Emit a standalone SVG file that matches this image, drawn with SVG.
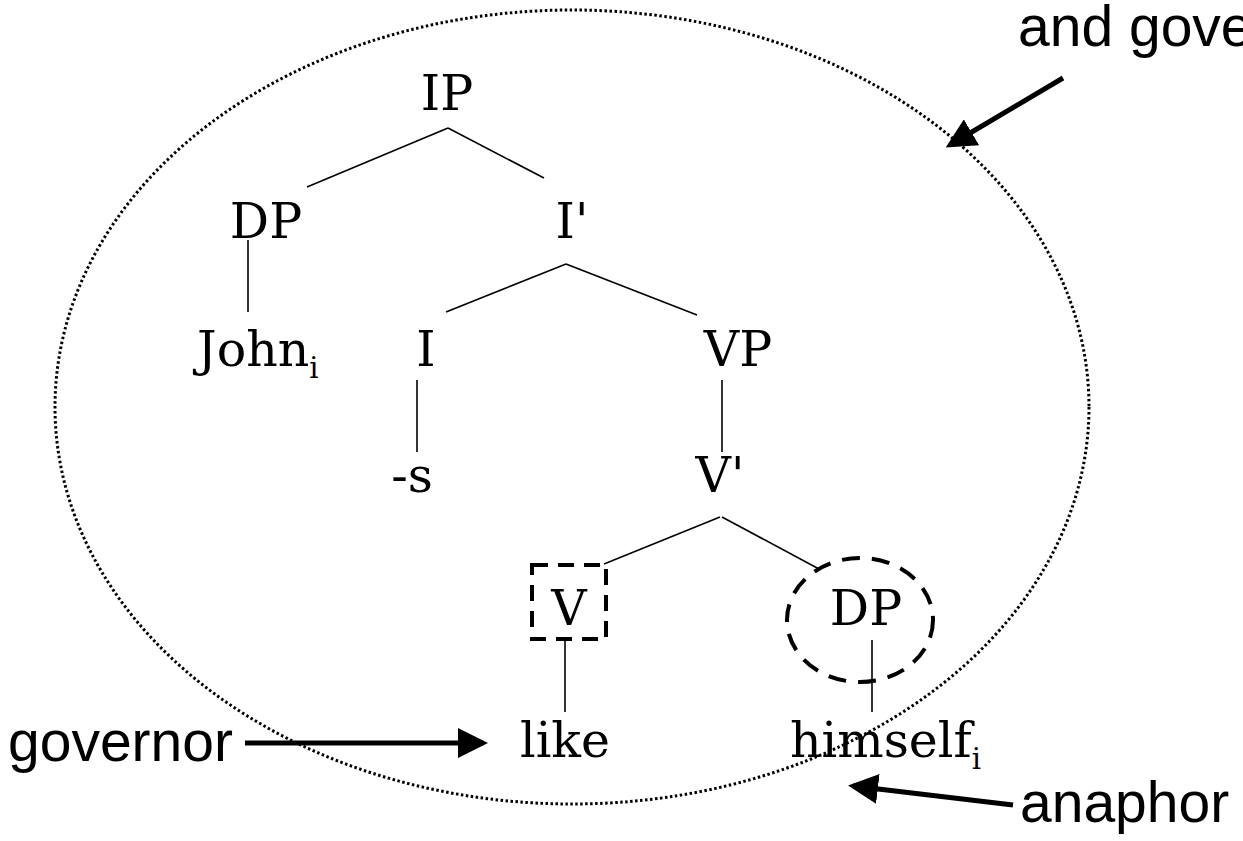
<svg xmlns="http://www.w3.org/2000/svg" width="1243" height="841" viewBox="0 0 1243 841">
<style>
.t{font-family:"DejaVu Serif","Liberation Serif",serif;font-size:49px;fill:#000;text-anchor:middle}
.l{font-family:"DejaVu Serif","Liberation Serif",serif;font-size:49px;fill:#000}
.sub{font-size:29px}
.a{font-family:"Liberation Sans",Arial,sans-serif;font-size:57px;fill:#000}
.e{stroke:#000;stroke-width:1.6;fill:none}
.arr{stroke:#000;stroke-width:5;fill:none}
</style>
<defs>
<marker id="ah" markerWidth="6" markerHeight="6" refX="5" refY="3" orient="auto" markerUnits="strokeWidth">
<path d="M0,0 L6,3 L0,6 Z" fill="#000"/>
</marker>
</defs>
<rect width="1243" height="841" fill="#fff"/>
<g id="domain">
<ellipse cx="572" cy="407" rx="517" ry="397" fill="none" stroke="#000" stroke-width="3" stroke-dasharray="2.5 2.5"/>
</g>
<g id="connectors">
<line class="e" x1="448" y1="128" x2="307" y2="187"/>
<line class="e" x1="448" y1="128" x2="544" y2="178"/>
<line class="e" x1="248" y1="240" x2="248" y2="312"/>
<line class="e" x1="566" y1="264" x2="446" y2="312"/>
<line class="e" x1="566" y1="264" x2="697" y2="315"/>
<line class="e" x1="417" y1="380" x2="417" y2="452"/>
<line class="e" x1="722" y1="380" x2="722" y2="452"/>
<line class="e" x1="720" y1="517" x2="604" y2="564"/>
<line class="e" x1="722" y1="517" x2="819" y2="569"/>
<line class="e" x1="565" y1="640" x2="565" y2="712"/>
<line class="e" x1="872" y1="640" x2="872" y2="712"/>
<line class="arr" x1="245" y1="743" x2="483" y2="743" marker-end="url(#ah)"/>
<line class="arr" x1="1063" y1="78" x2="950" y2="145" marker-end="url(#ah)"/>
<line class="arr" x1="1013" y1="805" x2="853" y2="786" marker-end="url(#ah)"/>
</g>
<g id="n-IP"><text class="t" x="447" y="110">IP</text></g>
<g id="n-DP1"><text class="t" x="266" y="238">DP</text></g>
<g id="n-Ibar"><text class="t" x="572" y="238">I'</text></g>
<g id="n-John"><text class="l" x="197" y="366">John<tspan class="sub" dy="12">i</tspan></text></g>
<g id="n-I"><text class="t" x="426" y="366">I</text></g>
<g id="n-VP"><text class="t" x="738" y="366">VP</text></g>
<g id="n-s"><text class="t" x="412" y="492">-s</text></g>
<g id="n-Vbar"><text class="t" x="720" y="492">V'</text></g>
<g id="n-V">
<rect x="532" y="565" width="74" height="74" fill="none" stroke="#000" stroke-width="4" stroke-dasharray="16 10"/>
<text class="t" x="569" y="625">V</text>
</g>
<g id="n-DP2">
<ellipse cx="860" cy="620" rx="73" ry="62" fill="none" stroke="#000" stroke-width="4" stroke-dasharray="18 12"/>
<text class="t" x="866" y="625">DP</text>
</g>
<g id="n-like"><text class="t" x="565" y="757">like</text></g>
<g id="n-himself"><text class="l" x="790" y="757">himself<tspan class="sub" dy="12">i</tspan></text></g>
<g id="l-governor"><text class="a" x="8" y="761">governor</text></g>
<g id="l-and"><text class="a" x="1018" y="46">and gove</text></g>
<g id="l-anaphor"><text class="a" x="1020" y="822">anaphor</text></g>
</svg>
